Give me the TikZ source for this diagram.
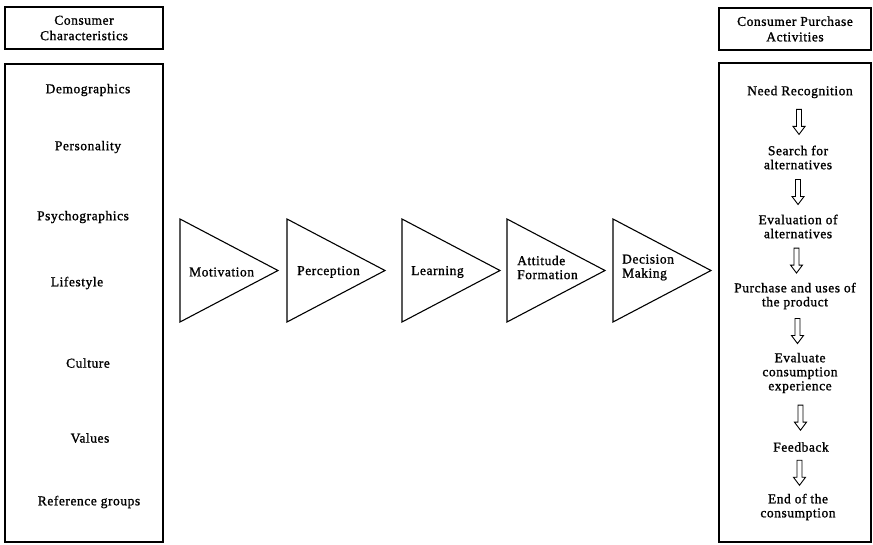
\documentclass[tikz,border=0pt]{standalone}
\usepackage{fontspec}
\setmainfont{Liberation Serif}[LetterSpace=4,FakeBold=1.2]
\usetikzlibrary{calc}
\newcommand\blkarrow[2]{%
  \path (#1.south) -- (#2.north) coordinate[midway] (#1-#2);
  \draw[blk, shift={(#1-#2)}] (-2.5,-12.5) -- (-2.5,4.5) -- (-6,4.5) -- (0,12.5) -- (6,4.5) -- (2.5,4.5) -- (2.5,-12.5) -- cycle;}
\begin{document}
\begin{tikzpicture}[x=1pt,y=-1pt,
  txt/.style={font=\fontsize{13.5}{14}\selectfont, align=center, inner sep=1pt},
  ltxt/.style={txt, align=left, anchor=west},
  box/.style={draw, line width=1.2pt},
  tri/.style={draw, line width=1.1pt, line join=miter},
  blk/.style={draw, line width=0.9pt, line join=miter}]
\useasboundingbox (0,0) rectangle (873,544);

% headers
\node[box, txt, minimum width=158, minimum height=42, font=\fontsize{13.5}{15.5}\selectfont] (h1) at (84,28) {Consumer\\Characteristics};
\node[box, txt, minimum width=152, minimum height=42, font=\fontsize{13.5}{15.5}\selectfont] (h2) at (795,29) {Consumer Purchase\\Activities};

% big boxes
\draw[box] (5,64) rectangle (163,542);
\draw[box] (719,63) rectangle (871,542);

% left column
\node[txt] (l1) at (88,90) {Demographics};
\node[txt] (l2) at (88,147) {Personality};
\node[txt] (l3) at (83,217) {Psychographics};
\node[txt] (l4) at (77,283) {Lifestyle};
\node[txt] (l5) at (88,363) {Culture};
\node[txt] (l6) at (90,438) {Values};
\node[txt] (l7) at (89,502) {Reference groups};

% triangles
\foreach \lx in {180,287,402,507,613}{
  \draw[tri] (\lx,219) -- (\lx+98,270.5) -- (\lx,322) -- cycle;
}
\node[ltxt] (t1) at (188,272) {Motivation};
\node[ltxt] (t2) at (296,272) {Perception};
\node[ltxt] (t3) at (410,272) {Learning};
\node[ltxt] (t4) at (516,267.5) {Attitude\\Formation};
\node[ltxt] (t5) at (621,267.5) {Decision\\Making};

% right column
\node[txt] (r1) at (800,92) {Need Recognition};
\node[txt] (r2) at (798,157.5) {Search for\\alternatives};
\node[txt] (r3) at (798,226.5) {Evaluation of\\alternatives};
\node[txt] (r4) at (795,296) {Purchase and uses of\\the product};
\node[txt] (r5) at (800,373) {Evaluate\\consumption\\experience};
\node[txt] (r6) at (801,447) {Feedback};
\node[txt] (r7) at (798,507) {End of the\\consumption};

\blkarrow{r1}{r2}
\blkarrow{r2}{r3}
\blkarrow{r3}{r4}
\blkarrow{r4}{r5}
\blkarrow{r5}{r6}
\blkarrow{r6}{r7}
\end{tikzpicture}
\end{document}
